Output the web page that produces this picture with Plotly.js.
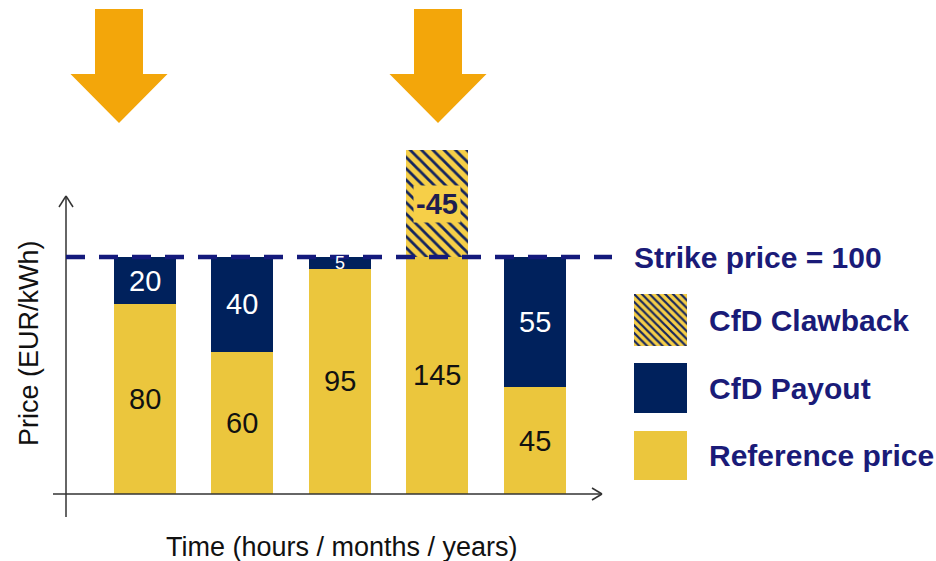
<!DOCTYPE html>
<html>
<head>
<meta charset="utf-8">
<script src="https://cdn.plot.ly/plotly-3.0.1.min.js"></script>
<style>html,body{margin:0;padding:0;background:#fff;}#chart{width:936px;height:561px;}</style>
</head>
<body>
<div id="chart"></div>
<script>
// ---- data ----
const periods = [0, 1, 2, 3, 4];
const referencePrice = [80, 60, 95, 145, 45];
const cfdPayout = [20, 40, 5, null, 55];
const cfdClawback = [null, null, null, -45, null];
const strikePrice = 100;
const legendLabels = ['CfD Clawback', 'CfD Payout', 'Reference price'];

// ---- styling ----
const W = 936, H = 561;
const YELLOW = '#EBC63D', NAVY = '#00215C', HATCH_BG = '#F6CF48', HATCH_FG = '#13245E';
const TEXT_NAVY = '#1a1b78', ORANGE = '#F3A60A', AXIS = '#333333';
const FONT = 'Liberation Sans, Arial, sans-serif';
const px = x => x / W, py = y => 1 - y / H;

const drawnRef = referencePrice.map(v => Math.min(v, strikePrice));
const clawHeight = cfdClawback.map(v => (v == null ? null : -v));
const barPattern = {shape: '\\', fgcolor: HATCH_FG, bgcolor: HATCH_BG, size: 8, solidity: 0.35, fillmode: 'replace'};
const swatchPattern = {shape: '\\', fgcolor: HATCH_FG, bgcolor: HATCH_BG, size: 5.5, solidity: 0.4, fillmode: 'replace'};

const traces = [
  {
    type: 'bar', x: periods, y: drawnRef, base: 0, width: 0.636,
    marker: {color: YELLOW, line: {width: 0}},
    hoverinfo: 'skip', showlegend: false
  },
  {
    type: 'bar', x: periods, y: cfdPayout, base: referencePrice, width: 0.636,
    marker: {color: NAVY, line: {width: 0}},
    hoverinfo: 'skip', showlegend: false
  },
  {
    type: 'bar', x: periods, y: clawHeight, base: strikePrice, width: 0.636,
    marker: {color: HATCH_BG, pattern: barPattern, line: {width: 0}},
    hoverinfo: 'skip', showlegend: false
  },
  // hatched legend swatch
  {
    type: 'bar', x: [0], y: [1], width: 1, xaxis: 'x2', yaxis: 'y2',
    marker: {color: HATCH_BG, pattern: swatchPattern, line: {width: 0}},
    hoverinfo: 'skip', showlegend: false
  }
];

const shapes = [];
// orange arrows
function arrow(tipX) {
  const sw = 24, hw = 48.5, top = 9, neck = 74, tip = 123;
  const pts = [[tipX - sw, top], [tipX + sw, top], [tipX + sw, neck], [tipX + hw, neck], [tipX, tip], [tipX - hw, neck], [tipX - sw, neck]];
  return {type: 'path', xref: 'paper', yref: 'paper', layer: 'above',
    path: 'M' + pts.map(p => px(p[0]) + ',' + py(p[1])).join(' L') + ' Z',
    fillcolor: ORANGE, line: {width: 0}};
}
shapes.push(arrow(119), arrow(438));
// axes with open arrowheads
function seg(x0, y0, x1, y1) {
  return {type: 'line', xref: 'paper', yref: 'paper', layer: 'above',
    x0: px(x0), y0: py(y0), x1: px(x1), y1: py(y1), line: {color: AXIS, width: 1.5}};
}
shapes.push(seg(66, 517, 66, 196), seg(59, 207, 66, 196), seg(73, 207, 66, 196));
shapes.push(seg(53, 494, 602, 494), seg(592, 488, 602, 494), seg(592, 500, 602, 494));
// strike price line
shapes.push({type: 'line', xref: 'paper', yref: 'y', layer: 'above',
  x0: px(66), x1: px(612), y0: strikePrice, y1: strikePrice,
  line: {color: '#141a7c', width: 4.5, dash: '19px,14px'}});
// legend swatches
shapes.push({type: 'rect', xref: 'paper', yref: 'paper', x0: px(634), x1: px(687), y0: py(413), y1: py(363), fillcolor: NAVY, line: {width: 0}});
shapes.push({type: 'rect', xref: 'paper', yref: 'paper', x0: px(634), x1: px(687), y0: py(480), y1: py(431), fillcolor: YELLOW, line: {width: 0}});

const annotations = [];
const centred = {xanchor: 'center', yanchor: 'middle', showarrow: false};
// value labels inside bars (centred in each segment)
periods.forEach((p, i) => {
  const ref = referencePrice[i];
  annotations.push(Object.assign({x: p, y: drawnRef[i] / 2, xref: 'x', yref: 'y',
    text: String(ref), font: {family: FONT, size: 29, color: '#111111'}}, centred));
  const pay = cfdPayout[i];
  if (pay != null) {
    annotations.push(Object.assign({x: p, y: ref + pay / 2, xref: 'x', yref: 'y',
      text: String(pay), font: {family: FONT, size: pay < 10 ? 18 : 29, color: '#ffffff'}}, centred));
  }
  const cb = cfdClawback[i];
  if (cb != null) {
    annotations.push(Object.assign({x: p, y: strikePrice - cb / 2, xref: 'x', yref: 'y',
      text: '<b>' + cb + '</b>', font: {family: FONT, size: 29, color: '#1e1e50'},
      bgcolor: HATCH_BG, borderpad: 2}, centred));
  }
});
// legend texts
annotations.push({x: px(632), y: py(257), xref: 'paper', yref: 'paper', xanchor: 'left', yanchor: 'middle', showarrow: false,
  text: '<b>Strike price = ' + strikePrice + '</b>', font: {family: FONT, size: 30, color: TEXT_NAVY}});
[320, 388, 455].forEach((yy, k) => {
  annotations.push({x: px(707), y: py(yy), xref: 'paper', yref: 'paper', xanchor: 'left', yanchor: 'middle', showarrow: false,
    text: '<b>' + legendLabels[k] + '</b>', font: {family: FONT, size: 30, color: TEXT_NAVY}});
});
// axis titles
annotations.push(Object.assign({x: px(29), y: py(343), xref: 'paper', yref: 'paper', textangle: -90,
  text: 'Price (EUR/kWh)', font: {family: FONT, size: 27, color: '#111111'}}, centred));
annotations.push(Object.assign({x: px(342), y: py(547), xref: 'paper', yref: 'paper',
  text: 'Time (hours / months / years)', font: {family: FONT, size: 27, color: '#111111'}}, centred));

const hidden = {showgrid: false, zeroline: false, showline: false, showticklabels: false, ticks: '', fixedrange: true};
const layout = {
  width: W, height: H, margin: {l: 0, r: 0, t: 0, b: 0, pad: 0},
  paper_bgcolor: '#ffffff', plot_bgcolor: 'rgba(0,0,0,0)',
  barmode: 'overlay', bargap: 0,
  xaxis: Object.assign({range: [-1.487, 8.113], domain: [0, 1]}, hidden),
  yaxis: Object.assign({range: [-28.27, 208.4], domain: [0, 1]}, hidden),
  xaxis2: Object.assign({range: [-0.5, 0.5], domain: [px(634), px(687)], anchor: 'y2'}, hidden),
  yaxis2: Object.assign({range: [0, 1], domain: [py(346), py(294)], anchor: 'x2'}, hidden),
  shapes: shapes, annotations: annotations, showlegend: false
};
Plotly.newPlot('chart', traces, layout, {displayModeBar: false, staticPlot: true});
</script>
</body>
</html>
